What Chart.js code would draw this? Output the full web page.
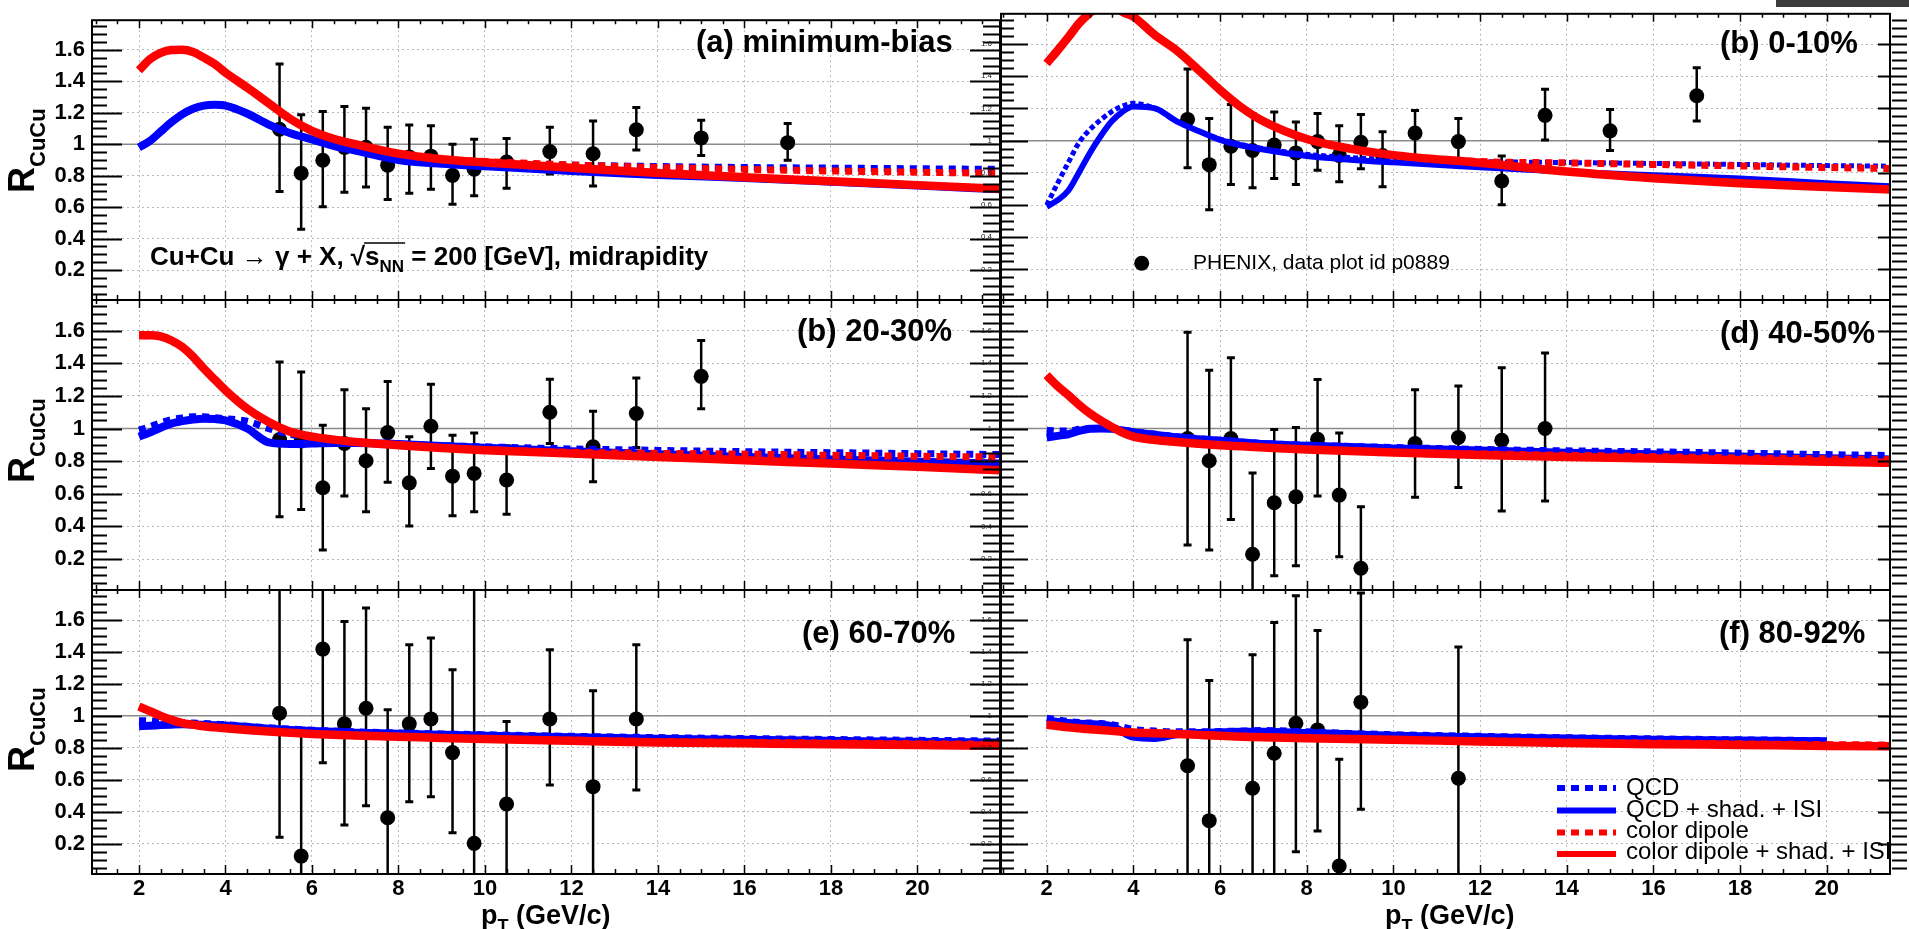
<!DOCTYPE html>
<html><head><meta charset="utf-8">
<script src="https://cdn.jsdelivr.net/npm/chart.js@4.4.1/dist/chart.umd.min.js"></script>
<style>
body{margin:0;background:#fff;width:1909px;height:929px;overflow:hidden;position:relative}
canvas{position:absolute;left:0;top:0}
#corner{position:absolute;left:1776px;top:0;width:133px;height:7px;background:#3c3c3c}
</style></head><body>
<div id="corner"></div>
<canvas id="p0" width="1909" height="929"></canvas>
<canvas id="p1" width="1909" height="929"></canvas>
<canvas id="p2" width="1909" height="929"></canvas>
<canvas id="p3" width="1909" height="929"></canvas>
<canvas id="p4" width="1909" height="929"></canvas>
<canvas id="p5" width="1909" height="929"></canvas>
<script>
// ---------------- DATA ----------------
const curvePT = [2, 2.25, 2.5, 2.75, 3, 3.25, 3.5, 3.75, 4, 4.5, 5, 5.5, 6, 6.5, 7, 8, 9, 10, 12, 14, 16, 18, 20, 22];

// (a) minimum-bias
const qcd_a     = [0.98,1.02,1.08,1.14,1.19,1.225,1.245,1.25,1.245,1.195,1.125,1.07,1.03,0.99,0.96,0.905,0.89,0.88,0.867,0.858,0.852,0.848,0.844,0.84];
const qcdShad_a = [0.98,1.02,1.08,1.14,1.19,1.225,1.245,1.25,1.245,1.195,1.125,1.07,1.03,0.99,0.96,0.9,0.875,0.86,0.83,0.805,0.785,0.762,0.738,0.712];
const dip_a     = [1.47,1.54,1.58,1.598,1.6,1.586,1.55,1.51,1.455,1.36,1.26,1.16,1.085,1.035,1.0,0.94,0.905,0.89,0.868,0.852,0.84,0.83,0.822,0.815];
const dipShad_a = [1.47,1.54,1.58,1.598,1.6,1.586,1.55,1.51,1.455,1.36,1.26,1.16,1.085,1.035,1.0,0.94,0.905,0.884,0.85,0.817,0.79,0.765,0.74,0.716];
const dataPT_a = [5.25,5.75,6.25,6.75,7.25,7.75,8.25,8.75,9.25,9.75,10.5,11.5,12.5,13.5,15,17];
const dataR_a  = [1.095,0.816,0.898,0.98,0.98,0.867,0.918,0.924,0.802,0.841,0.887,0.953,0.939,1.092,1.04,1.01];
const dataHi_a = [1.51,1.187,1.208,1.24,1.228,1.108,1.122,1.118,1.0,1.031,1.037,1.108,1.147,1.234,1.153,1.132];
const dataLo_a = [0.70,0.459,0.602,0.694,0.728,0.649,0.688,0.714,0.618,0.673,0.72,0.81,0.734,0.963,0.928,0.898];

// (b) 0-10%
const qcd_b     = [0.6,0.735,0.865,0.99,1.07,1.13,1.18,1.215,1.232,1.2,1.12,1.06,1.01,0.975,0.95,0.915,0.895,0.882,0.87,0.864,0.858,0.852,0.845,0.84];
const qcdShad_b = [0.59,0.63,0.69,0.805,0.925,1.03,1.12,1.18,1.212,1.2,1.12,1.06,1.005,0.97,0.945,0.905,0.882,0.865,0.835,0.806,0.785,0.765,0.735,0.71];
const dip_b     = [1.48,1.56,1.643,1.73,1.795,1.845,1.855,1.8,1.77,1.655,1.56,1.44,1.315,1.205,1.12,1.01,0.95,0.91,0.87,0.862,0.852,0.843,0.833,0.825];
const dipShad_b = [1.48,1.56,1.643,1.73,1.795,1.845,1.855,1.8,1.77,1.655,1.56,1.44,1.315,1.205,1.12,1.01,0.95,0.91,0.862,0.808,0.767,0.735,0.712,0.69];
const dataPT_b = [5.25,5.75,6.25,6.75,7.25,7.75,8.25,8.75,9.25,9.75,10.5,11.5,12.5,13.5,15,17];
const dataR_b  = [1.132,0.851,0.965,0.939,0.973,0.924,0.994,0.908,0.99,0.908,1.047,0.994,0.749,1.157,1.061,1.279];
const dataHi_b = [1.445,1.138,1.224,1.169,1.178,1.116,1.169,1.092,1.163,1.055,1.187,1.138,0.904,1.32,1.194,1.453];
const dataLo_b = [0.832,0.571,0.728,0.708,0.765,0.728,0.816,0.745,0.826,0.714,0.908,0.847,0.602,1.004,0.939,1.122];

// (b) 20-30%
const qcd_c     = [0.99,1.01,1.035,1.055,1.065,1.072,1.072,1.066,1.06,1.045,1.0,0.965,0.945,0.93,0.918,0.905,0.895,0.888,0.875,0.866,0.858,0.852,0.846,0.84];
const qcdShad_c = [0.95,0.975,1.005,1.03,1.045,1.055,1.06,1.058,1.05,1.0,0.915,0.905,0.908,0.912,0.912,0.905,0.893,0.882,0.86,0.842,0.826,0.81,0.797,0.785];
const dip_c     = [1.572,1.572,1.565,1.54,1.5,1.44,1.367,1.3,1.234,1.122,1.04,0.98,0.95,0.932,0.918,0.898,0.881,0.87,0.855,0.848,0.843,0.836,0.83,0.825];
const dipShad_c = [1.572,1.572,1.565,1.54,1.5,1.44,1.367,1.3,1.234,1.122,1.04,0.98,0.95,0.932,0.918,0.898,0.881,0.867,0.847,0.826,0.806,0.785,0.765,0.743];
const dataPT_c = [5.25,5.75,6.25,6.75,7.25,7.75,8.25,8.75,9.25,9.75,10.5,11.5,12.5,13.5,15];
const dataR_c  = [0.933,0.924,0.637,0.908,0.802,0.975,0.667,1.014,0.708,0.725,0.684,1.1,0.888,1.092,1.32];
const dataHi_c = [1.408,1.346,1.02,1.238,1.122,1.289,0.949,1.271,0.959,0.973,0.894,1.302,1.106,1.31,1.54];
const dataLo_c = [0.459,0.504,0.255,0.586,0.49,0.67,0.402,0.755,0.465,0.49,0.474,0.908,0.673,0.884,1.122];

// (d) 40-50%
const qcd_d     = [0.99,0.985,0.985,0.995,1.0,1.002,1.0,0.99,0.98,0.965,0.949,0.938,0.928,0.918,0.908,0.898,0.89,0.884,0.872,0.863,0.857,0.849,0.84,0.833];
const qcdShad_d = [0.945,0.955,0.965,0.985,0.998,1.0,0.998,0.988,0.978,0.962,0.947,0.935,0.925,0.915,0.905,0.895,0.886,0.878,0.866,0.852,0.842,0.829,0.818,0.808];
const dip_d     = [1.326,1.26,1.204,1.145,1.092,1.048,1.01,0.975,0.95,0.93,0.918,0.907,0.898,0.891,0.884,0.871,0.862,0.853,0.845,0.836,0.828,0.82,0.814,0.808];
const dipShad_d = [1.326,1.26,1.204,1.145,1.092,1.048,1.01,0.975,0.95,0.93,0.918,0.907,0.898,0.891,0.884,0.871,0.862,0.853,0.837,0.826,0.816,0.806,0.796,0.788];
const dataPT_d = [5.25,5.75,6.25,6.75,7.25,7.75,8.25,8.75,9.25,10.5,11.5,12.5,13.5];
const dataR_d  = [0.939,0.802,0.939,0.229,0.545,0.581,0.934,0.592,0.143,0.908,0.945,0.928,1.0];
const dataHi_d = [1.591,1.357,1.434,0.728,0.994,1.006,1.3,0.973,0.52,1.238,1.261,1.373,1.463];
const dataLo_d = [0.286,0.255,0.443,-0.1,0.098,0.159,0.586,0.214,-0.1,0.578,0.639,0.494,0.555];

// (e) 60-70%
const qcd_e     = [0.97,0.968,0.965,0.962,0.958,0.955,0.952,0.948,0.945,0.935,0.925,0.917,0.91,0.905,0.9,0.893,0.887,0.882,0.872,0.864,0.858,0.852,0.847,0.842];
const qcdShad_e = [0.935,0.938,0.942,0.945,0.947,0.946,0.944,0.942,0.94,0.93,0.92,0.912,0.905,0.9,0.895,0.888,0.882,0.876,0.866,0.856,0.85,0.844,0.838,0.833];
const dip_e     = [1.058,1.03,1.0,0.975,0.955,0.945,0.935,0.928,0.922,0.911,0.902,0.894,0.887,0.882,0.877,0.87,0.863,0.857,0.848,0.84,0.835,0.83,0.826,0.822];
const dipShad_e = [1.058,1.03,1.0,0.975,0.955,0.945,0.935,0.928,0.922,0.911,0.902,0.894,0.887,0.882,0.877,0.87,0.862,0.855,0.844,0.834,0.828,0.822,0.817,0.812];
const dataPT_e = [5.25,5.75,6.25,6.75,7.25,7.75,8.25,8.75,9.25,9.75,10.5,11.5,12.5,13.5];
const dataR_e  = [1.017,0.122,1.418,0.95,1.048,0.362,0.95,0.981,0.77,0.202,0.448,0.981,0.557,0.981];
const dataHi_e = [1.9,0.923,1.9,1.591,1.675,1.038,1.445,1.487,1.288,1.9,0.964,1.414,1.157,1.445];
const dataLo_e = [0.24,-0.1,0.707,0.317,0.438,-0.1,0.463,0.494,0.268,-0.1,-0.1,0.567,-0.1,0.536];

// (f) 80-92%
const qcd_f     = [0.985,0.975,0.965,0.958,0.955,0.952,0.945,0.93,0.915,0.905,0.9,0.9,0.902,0.905,0.908,0.9,0.89,0.882,0.872,0.863,0.856,0.85,0.845,null];
const qcdShad_f = [0.97,0.962,0.955,0.95,0.948,0.945,0.935,0.9,0.87,0.862,0.885,0.893,0.897,0.9,0.9,0.892,0.885,0.876,0.866,0.858,0.85,0.846,0.841,null];
const dip_f     = [0.944,0.936,0.928,0.922,0.916,0.911,0.906,0.901,0.896,0.891,0.887,0.881,0.875,0.87,0.866,0.86,0.855,0.85,0.845,0.836,0.83,0.825,0.82,0.817];
const dipShad_f = [0.944,0.936,0.928,0.922,0.916,0.911,0.906,0.901,0.896,0.891,0.887,0.881,0.875,0.87,0.866,0.86,0.855,0.85,0.84,0.83,0.823,0.818,0.812,0.81];
const dataPT_f = [5.25,5.75,6.75,7.25,7.75,8.25,8.75,9.25,11.5];
const dataR_f  = [0.688,0.344,0.547,0.766,0.954,0.912,0.06,1.086,0.609];
const dataHi_f = [1.476,1.221,1.382,1.585,1.752,1.535,0.728,1.77,1.431];
const dataLo_f = [-0.1,-0.1,-0.1,-0.1,0.149,0.279,-0.1,0.415,-0.1];

const xTickValues = [2,4,6,8,10,12,14,16,18,20];
const yTickValues = [0.2,0.4,0.6,0.8,1,1.2,1.4,1.6];
const panelLabels = ['(a) minimum-bias','(b) 0-10%','(b) 20-30%','(d) 40-50%','(e) 60-70%','(f) 80-92%'];
const legendLabels = ['QCD','QCD + shad. + ISI','color dipole','color dipole + shad. + ISI'];
const dataLabel = 'PHENIX, data plot id p0889';

// ---------------- LAYOUT / STYLE ----------------
const FONT = "'Liberation Sans', Arial, Helvetica, sans-serif";
Chart.defaults.font.family = FONT;
Chart.defaults.color = '#000';
const COLS = [
  {L:92, R:1000, xmin:0.913, xmax:21.91, yw:80, lblPad:7, lblFont:{size:22, weight:'bold'}, tickL:[30,15], rightX:1000, tickR:[30,17]},
  {L:1001, R:1890, xmin:0.945, xmax:21.46, yw:25, lblPad:9, lblFont:{size:8, weight:'normal'}, tickL:[27,13], rightX:1907, tickR:[29,15]}
];
const ROWS = [{T:10,B:300},{T:300,B:590},{T:590,B:874}];
const YMIN = 0.01, YMAX = 1.788;
const labelPos = [{x:696,y:52},{x:1720,y:53},{x:797,y:341},{x:1720,y:343},{x:802,y:643},{x:1719,y:643}];
const RED = '#ff0000', BLUE = '#0000ff';

const panels = [
  {qcd:qcd_a,qcdShad:qcdShad_a,dip:dip_a,dipShad:dipShad_a,px:dataPT_a,r:dataR_a,hi:dataHi_a,lo:dataLo_a},
  {qcd:qcd_b,qcdShad:qcdShad_b,dip:dip_b,dipShad:dipShad_b,px:dataPT_b,r:dataR_b,hi:dataHi_b,lo:dataLo_b},
  {qcd:qcd_c,qcdShad:qcdShad_c,dip:dip_c,dipShad:dipShad_c,px:dataPT_c,r:dataR_c,hi:dataHi_c,lo:dataLo_c},
  {qcd:qcd_d,qcdShad:qcdShad_d,dip:dip_d,dipShad:dipShad_d,px:dataPT_d,r:dataR_d,hi:dataHi_d,lo:dataLo_d},
  {qcd:qcd_e,qcdShad:qcdShad_e,dip:dip_e,dipShad:dipShad_e,px:dataPT_e,r:dataR_e,hi:dataHi_e,lo:dataLo_e},
  {qcd:qcd_f,qcdShad:qcdShad_f,dip:dip_f,dipShad:dipShad_f,px:dataPT_f,r:dataR_f,hi:dataHi_f,lo:dataLo_f}
];

const zip = (xs, ys) => xs.map((x, i) => ({x: x, y: ys[i]}));

function drawRich(ctx, parts, x, y) {
  let cx = x; const pos = [];
  parts.forEach(p => {
    ctx.font = p.font; ctx.fillText(p.t, cx, y + (p.dy || 0));
    const w = ctx.measureText(p.t).width; pos.push([cx, cx + w]); cx += w;
  });
  return pos;
}

function makePanel(idx) {
  const col = COLS[idx % 2], row = ROWS[Math.floor(idx / 2)], rowIdx = Math.floor(idx / 2);
  const p = panels[idx];
  const bottomRow = rowIdx === 2;
  const xh = bottomRow ? 40 : 0;
  const common = {pointRadius:0, fill:false, cubicInterpolationMode:'monotone', clip:0, borderCapStyle:'butt', borderJoinStyle:'round', spanGaps:false};
  const datasets = [
    Object.assign({label:legendLabels[3], data:zip(curvePT, p.dipShad), borderColor:RED, borderWidth:8.5}, common),
    Object.assign({label:legendLabels[2], data:zip(curvePT, p.dip), borderColor:RED, borderWidth:7, borderDash:[7,6]}, common),
    Object.assign({label:legendLabels[1], data:zip(curvePT, p.qcdShad), borderColor:BLUE, borderWidth:idx === 1 ? 6 : 8}, common),
    Object.assign({label:legendLabels[0], data:zip(curvePT, p.qcd), borderColor:BLUE, borderWidth:idx === 1 ? 5 : 7, borderDash:idx === 1 ? [5,3] : [7,6]}, common),
    {label:'PHENIX', data:zip(p.px, p.r), showLine:false, pointRadius:7.5, pointHoverRadius:7.5,
     pointBackgroundColor:'#000', pointBorderColor:'#000', pointBorderWidth:0}
  ];

  const deco = {
    id:'deco' + idx,
    beforeDatasetsDraw(chart) {
      const {ctx, chartArea:a, scales:{x, y}} = chart;
      ctx.save();
      const y1 = y.getPixelForValue(1);
      ctx.strokeStyle = '#8a8a8a'; ctx.lineWidth = 1.5;
      ctx.beginPath(); ctx.moveTo(a.left, y1); ctx.lineTo(a.right, y1); ctx.stroke();
      ctx.beginPath(); ctx.rect(a.left, a.top, a.right - a.left, a.bottom - a.top); ctx.clip();
      ctx.strokeStyle = '#000';
      p.px.forEach((xv, i) => {
        const px = x.getPixelForValue(xv), ph = y.getPixelForValue(p.hi[i]), pl = y.getPixelForValue(p.lo[i]);
        ctx.lineWidth = 2.5;
        ctx.beginPath(); ctx.moveTo(px, pl); ctx.lineTo(px, ph); ctx.stroke();
        ctx.lineWidth = 3;
        ctx.beginPath(); ctx.moveTo(px - 4, ph); ctx.lineTo(px + 4, ph);
        ctx.moveTo(px - 4, pl); ctx.lineTo(px + 4, pl); ctx.stroke();
      });
      ctx.restore();
    },
    afterDraw(chart) {
      const {ctx, chartArea:a, scales:{x, y}} = chart;
      ctx.save();
      ctx.strokeStyle = '#000'; ctx.lineWidth = 2;
      ctx.strokeRect(a.left, a.top, a.right - a.left, a.bottom - a.top);
      ctx.lineWidth = 2; ctx.beginPath();
      for (let k = 1; k <= 36; k++) {
        const v = k * 0.05; if (v < y.min || v > y.max) continue;
        const major = k % 4 === 0;
        const py = Math.round(y.getPixelForValue(v)) + 0.5;
        ctx.moveTo(a.left, py); ctx.lineTo(a.left + (major ? col.tickL[0] : col.tickL[1]), py);
        ctx.moveTo(col.rightX, py); ctx.lineTo(col.rightX - (major ? col.tickR[0] : col.tickR[1]), py);
      }
      ctx.stroke();
      ctx.lineWidth = 1.5; ctx.beginPath();
      for (let k = 2; k <= 44; k++) {
        const v = k * 0.5; if (v < x.min || v > x.max) continue;
        const major = k % 4 === 0;
        const px = Math.round(x.getPixelForValue(v)) + 0.5;
        ctx.moveTo(px, a.top); ctx.lineTo(px, a.top + (major ? 8 : 4));
        ctx.moveTo(px, a.bottom); ctx.lineTo(px, a.bottom - (major ? 9 : 5));
      }
      ctx.stroke();
      ctx.fillStyle = '#000'; ctx.textBaseline = 'alphabetic'; ctx.textAlign = 'left';
      ctx.font = 'bold 31px ' + FONT;
      ctx.fillText(panelLabels[idx], labelPos[idx].x, labelPos[idx].y);
      if (idx % 2 === 0) {
        const starts = [193, 483, 772];
        ctx.save(); ctx.translate(33.5, starts[rowIdx]); ctx.rotate(-Math.PI / 2);
        drawRich(ctx, [{t:'R', font:'bold 36px ' + FONT}, {t:'CuCu', font:'bold 22px ' + FONT, dy:11}], 0, 0);
        ctx.restore();
      }
      if (bottomRow) {
        const x0 = idx % 2 === 0 ? 481 : 1385;
        drawRich(ctx, [{t:'p', font:'bold 27px ' + FONT}, {t:'T', font:'bold 18px ' + FONT, dy:8}, {t:' (GeV/c)', font:'bold 27px ' + FONT}], x0, 924);
      }
      if (idx === 0) {
        const f = 'bold 26px ' + FONT;
        const pos = drawRich(ctx, [
          {t:'Cu+Cu \u2192 \u03b3 + X, ', font:f}, {t:'\u221a', font:f}, {t:'s', font:f},
          {t:'NN', font:'bold 17px ' + FONT, dy:7}, {t:' = 200 [GeV], midrapidity', font:f}
        ], 150, 265);
        ctx.lineWidth = 1.6; ctx.beginPath();
        ctx.moveTo(pos[1][1] - 1, 243); ctx.lineTo(pos[3][1] + 1, 243); ctx.stroke();
      }
      if (idx === 1) {
        ctx.beginPath(); ctx.arc(1141.7, 263.3, 7.5, 0, Math.PI * 2); ctx.fill();
        ctx.font = '21px ' + FONT; ctx.fillText(dataLabel, 1193, 269);
      }
      if (idx === 5) {
        const order = [3, 2, 1, 0];
        const ly = [788, 810.5, 832.5, 854], tb = [795, 816.5, 837.5, 858.5];
        ctx.font = '24px ' + FONT;
        order.forEach((di, k) => {
          const ds = chart.data.datasets[di];
          ctx.strokeStyle = ds.borderColor; ctx.lineWidth = 6;
          ctx.setLineDash(ds.borderDash ? [8, 6] : []);
          ctx.beginPath(); ctx.moveTo(1557, ly[k]); ctx.lineTo(1616, ly[k]); ctx.stroke();
          ctx.setLineDash([]);
          ctx.fillStyle = '#000'; ctx.fillText(legendLabels[k], 1626, tb[k]);
        });
      }
      ctx.restore();
    }
  };

  return new Chart(document.getElementById('p' + idx), {
    type:'line',
    data:{datasets:datasets},
    options:{
      responsive:false, animation:false, devicePixelRatio:1, events:[],
      layout:{padding:{left:col.L - col.yw, right:1909 - col.R, top:row.T, bottom:929 - row.B - xh}},
      plugins:{legend:{display:false}, tooltip:{enabled:false}},
      scales:{
        x:{type:'linear', position:'bottom', min:col.xmin, max:col.xmax,
           afterBuildTicks:s => { s.ticks = xTickValues.map(v => ({value:v})); },
           afterFit:s => { s.height = xh; },
           ticks:{display:bottomRow, autoSkip:false, maxRotation:0, padding:2, color:'#000',
                  font:{size:22, weight:'bold'}, callback:v => String(v)},
           grid:{color:'#b8b8b8', lineWidth:1, drawTicks:false},
           border:{display:false, dash:[2,3]}},
        y:{type:'linear', position:'left', min:YMIN, max:YMAX,
           afterBuildTicks:s => { s.ticks = yTickValues.map(v => ({value:v})); },
           afterFit:s => { s.width = col.yw; },
           ticks:{padding:col.lblPad, color:idx % 2 ? '#222' : '#000', font:col.lblFont,
                  callback:v => (Math.abs(v - 1) < 1e-9 ? '1' : v.toFixed(1))},
           grid:{color:'#b8b8b8', lineWidth:1, drawTicks:false},
           border:{display:false, dash:[2,3]}}
      }
    },
    plugins:[deco]
  });
}
for (let i = 0; i < 6; i++) makePanel(i);
</script>
</body></html>
